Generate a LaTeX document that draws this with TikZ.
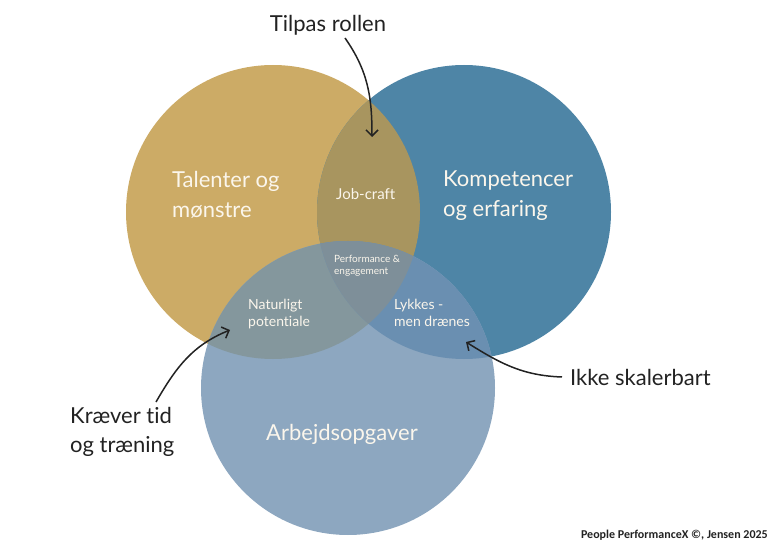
\documentclass[tikz,border=0pt]{standalone}
\usepackage{fontspec}
\setmainfont{Lato}[Ligatures=NoCommon]
\newfontfamily\footfont{Carlito}
\usepackage{tikz}
\usetikzlibrary{arrows.meta}
\definecolor{goldc}{HTML}{CCAB66}
\definecolor{bluec}{HTML}{4E85A6}
\definecolor{taskc}{HTML}{8DA7C0}
\definecolor{goldblue}{HTML}{A8955F}
\definecolor{goldtask}{HTML}{84979D}
\definecolor{bluetask}{HTML}{6A8FB1}
\definecolor{allc}{HTML}{7E8F99}
\definecolor{inkc}{HTML}{222222}
\definecolor{paperc}{HTML}{FBF6EC}
\tikzset{
  bigtext/.style={inner sep=0pt,align=left,text=paperc,font=\fontsize{22}{30}\selectfont},
  midtext/.style={inner sep=0pt,align=left,text=paperc,font=\fontsize{14}{17}\selectfont},
  tinytext/.style={inner sep=0pt,align=left,text=paperc,font=\fontsize{10}{13}\selectfont},
  note/.style={inner sep=0pt,align=left,text=inkc,font=\fontsize{22}{29}\selectfont},
  pointer/.style={draw=inkc,line width=1.5pt,-{Straight Barb[length=6pt,width=12pt]}}
}
\begin{document}
\begin{tikzpicture}[x=1pt,y=1pt]
\useasboundingbox (0,0) rectangle (780,550);
\coordinate (T) at (273,338);
\coordinate (K) at (464,338);
\coordinate (A) at (348,162);
\fill[goldc] (T) circle[radius=147];
\fill[bluec] (K) circle[radius=147];
\fill[taskc] (A) circle[radius=147];
\begin{scope}
\clip (T) circle[radius=147];
\fill[goldblue] (K) circle[radius=147];
\fill[goldtask] (A) circle[radius=147];
\end{scope}
\begin{scope}
\clip (K) circle[radius=147];
\fill[bluetask] (A) circle[radius=147];
\end{scope}
\begin{scope}
\clip (T) circle[radius=147];
\clip (K) circle[radius=147];
\fill[allc] (A) circle[radius=147];
\end{scope}
\node[bigtext,anchor=base west] (talent) at (172,332) {Talenter og\\mønstre};
\node[bigtext,anchor=base west] (komp) at (443,333) {Kompetencer\\og erfaring};
\node[bigtext,anchor=base] (opg) at (342,110) {Arbejdsopgaver};
\node[midtext,anchor=base west,font=\fontsize{15}{17}\selectfont] (job) at (336,350) {Job-craft};
\node[tinytext,anchor=base west] (perf) at (334,275) {Performance \&\\engagement};
\node[midtext,anchor=base west] (nat) at (248,224) {Naturligt\\potentiale};
\node[midtext,anchor=base west] (lyk) at (394,224) {Lykkes -\\men drænes};
\node[note,anchor=base] (tilpas) at (328,518) {Tilpas rollen};
\node[note,anchor=base west] (kraev) at (70,98) {Kræver tid\\og træning};
\node[note,anchor=base west] (ikke) at (570,165) {Ikke skalerbart};
\node[inner sep=0pt,anchor=base east,text=inkc,font=\footfont\bfseries\fontsize{12}{14}\selectfont] (foot) at (768,12) {People PerformanceX ©, Jensen 2025};
\coordinate (tilpasS) at (345,512);
\coordinate (tilpasE) at (372,413);
\coordinate (kraevS) at (156,148);
\coordinate (kraevE) at (230,220);
\coordinate (ikkeS) at (562,173);
\coordinate (ikkeE) at (466,208);
\draw[pointer] (tilpasS) to[out=-55,in=90] (tilpasE);
\draw[pointer] (kraevS) to[out=60,in=202] (kraevE);
\draw[pointer] (ikkeS) to[out=178,in=-32] (ikkeE);
\end{tikzpicture}
\end{document}
